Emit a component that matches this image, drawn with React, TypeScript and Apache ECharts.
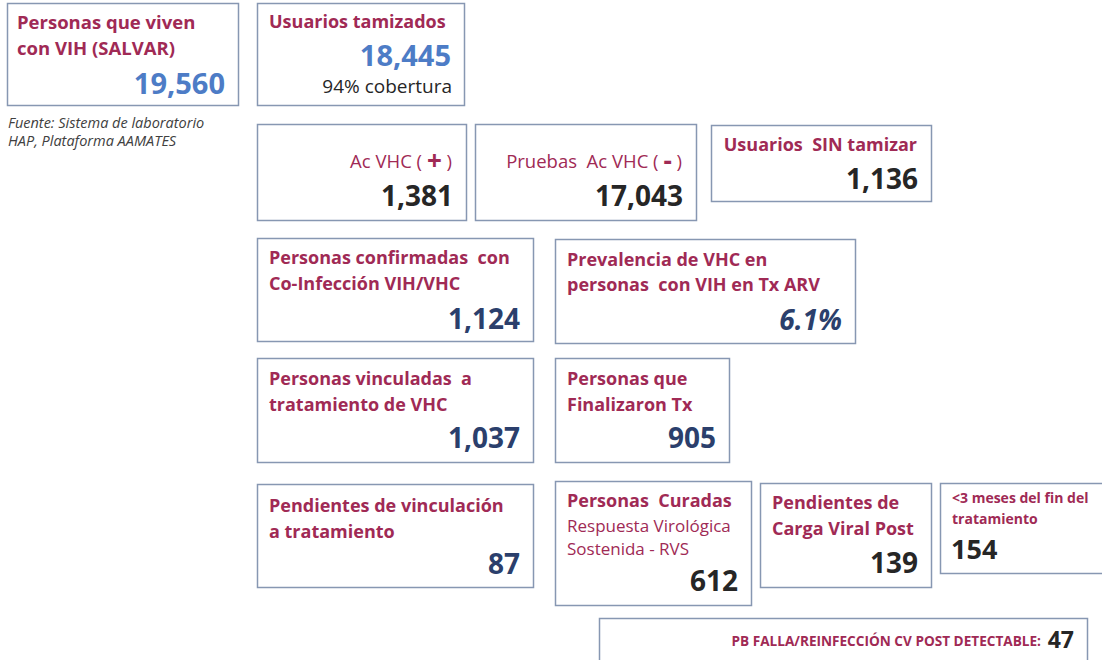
import React, { useEffect, useRef } from "react";
import * as echarts from "echarts";

// ---- data ----
const boxTitles: string[][] = [
  ["Personas que viven", "con VIH (SALVAR)"],
  ["Usuarios tamizados"],
  ["Ac VHC ( {sym|+} )"],
  ["Pruebas  Ac VHC ( {sym|-} )"],
  ["Usuarios  SIN tamizar"],
  ["Personas confirmadas  con", "Co-Infección VIH/VHC"],
  ["Prevalencia de VHC en", "personas  con VIH en Tx ARV"],
  ["Personas vinculadas  a", "tratamiento de VHC"],
  ["Personas que", "Finalizaron Tx"],
  ["Pendientes de vinculación", "a tratamiento"],
  ["Personas  Curadas"],
  ["Pendientes de", "Carga Viral Post"],
  ["<3 meses del fin del", "tratamiento"],
  ["PB FALLA/REINFECCIÓN CV POST DETECTABLE:"],
];
const boxValues: number[] = [19560, 18445, 1381, 17043, 1136, 1124, 6.1, 1037, 905, 87, 612, 139, 154, 47];
const boxUnits: string[] = ["", "", "", "", "", "", "%", "", "", "", "", "", "", ""];
const coverageNote = "94% cobertura";
const curedNote = ["Respuesta Virológica", "Sostenida - RVS"];
const sourceNote = ["Fuente: Sistema de laboratorio", "HAP, Plataforma AAMATES"];

// ---- layout / style (not data) ----
type Layout = {
  x: number; y: number; w: number; h: number;
  titleY: number[]; titleAlign: "left" | "right"; titleSize: number; titleWeight: string; titleRight?: number; titleLeft?: number;
  valueY: number; valueX?: number; valueAlign: "left" | "right"; valueSize: number; valueColor: string; valueItalic?: boolean;
};
const BLUE = "#4d7cc6";
const DARK = "#262626";
const NAVY = "#2b3f6c";
const CRIMSON = "#a02a55";
const BORDER = "#8797b2";
const FONT = "'Open Sans', sans-serif";
const TS = 18;
const VS = 28;

const layout: Layout[] = [
  { x: 7, y: 3, w: 231, h: 102, titleY: [21, 47], titleAlign: "left", titleLeft: 17, titleSize: 18.5, titleWeight: "bold", valueY: 82, valueAlign: "right", valueSize: 29, valueColor: BLUE },
  { x: 257, y: 3, w: 207, h: 102, titleY: [21], titleAlign: "left", titleSize: TS, titleWeight: "bold", valueY: 54, valueAlign: "right", valueSize: 29, valueColor: BLUE },
  { x: 257, y: 124, w: 209, h: 96, titleY: [160], titleAlign: "right", titleSize: 18.5, titleWeight: "normal", valueY: 195, valueAlign: "right", valueSize: VS, valueColor: DARK },
  { x: 475, y: 124, w: 221, h: 96, titleY: [160], titleAlign: "right", titleSize: 18.5, titleWeight: "normal", valueY: 195, valueAlign: "right", valueSize: VS, valueColor: DARK },
  { x: 711, y: 125, w: 220, h: 76, titleY: [144], titleAlign: "right", titleSize: TS, titleWeight: "bold", valueY: 178, valueAlign: "right", valueSize: VS, valueColor: DARK },
  { x: 257, y: 238, w: 276, h: 103, titleY: [257, 283], titleAlign: "left", titleSize: TS, titleWeight: "bold", valueY: 318, valueAlign: "right", valueSize: VS, valueColor: NAVY },
  { x: 555, y: 239, w: 300, h: 104, titleY: [259, 284], titleAlign: "left", titleSize: TS, titleWeight: "bold", valueY: 319, valueAlign: "right", valueSize: VS, valueColor: NAVY, valueItalic: true },
  { x: 257, y: 358, w: 276, h: 104, titleY: [378, 404], titleAlign: "left", titleSize: TS, titleWeight: "bold", valueY: 437, valueAlign: "right", valueSize: VS, valueColor: NAVY },
  { x: 555, y: 358, w: 174, h: 104, titleY: [378, 404], titleAlign: "left", titleSize: TS, titleWeight: "bold", valueY: 437, valueAlign: "right", valueSize: VS, valueColor: NAVY },
  { x: 257, y: 484, w: 276, h: 103, titleY: [505, 531], titleAlign: "left", titleSize: TS, titleWeight: "bold", valueY: 563, valueAlign: "right", valueSize: VS, valueColor: NAVY },
  { x: 555, y: 481, w: 196, h: 124, titleY: [500], titleAlign: "left", titleSize: TS, titleWeight: "bold", valueY: 580, valueAlign: "right", valueSize: VS, valueColor: DARK },
  { x: 760, y: 483, w: 171, h: 104, titleY: [502, 528], titleAlign: "left", titleSize: TS, titleWeight: "bold", valueY: 562, valueAlign: "right", valueSize: VS, valueColor: DARK },
  { x: 940, y: 483, w: 170, h: 90, titleY: [497, 518], titleAlign: "left", titleSize: 14, titleWeight: "bold", valueY: 548, valueX: 951, valueAlign: "left", valueSize: 27, valueColor: DARK },
  { x: 599, y: 618, w: 488, h: 60, titleY: [640], titleAlign: "right", titleSize: 13.6, titleWeight: "bold", titleRight: 1041, valueY: 639, valueAlign: "right", valueSize: 23, valueColor: DARK },
];

function fmt(v: number, unit: string): string {
  if (unit === "%") return v.toFixed(1) + "%";
  return v.toLocaleString("en-US");
}

function buildGraphic(): any[] {
  const els: any[] = [];
  layout.forEach((L, i) => {
    els.push({
      type: "rect",
      shape: { x: L.x + 0.5, y: L.y + 0.5, width: L.w, height: L.h },
      style: { fill: "#ffffff", stroke: BORDER, lineWidth: 1.5 },
      silent: true,
    });
    const rightX = L.titleRight ?? L.x + L.w - 14;
    const valueRight = L.x + L.w - 13;
    boxTitles[i].forEach((t, j) => {
      els.push({
        type: "text",
        x: L.titleAlign === "left" ? (L.titleLeft ?? L.x + 12) : rightX,
        y: L.titleY[j],
        style: {
          text: t,
          fill: CRIMSON,
          fontFamily: FONT,
          fontSize: L.titleSize,
          fontWeight: L.titleWeight,
          textAlign: L.titleAlign,
          textVerticalAlign: "middle",
          rich: {
            sym: { fontSize: 26, fontWeight: "bold", fill: CRIMSON, fontFamily: FONT },
          },
        },
        silent: true,
      });
    });
    els.push({
      type: "text",
      x: L.valueAlign === "left" ? (L.valueX ?? L.x + 12) : valueRight,
      y: L.valueY,
      style: {
        text: fmt(boxValues[i], boxUnits[i]),
        fill: L.valueColor,
        fontFamily: FONT,
        fontSize: L.valueSize,
        fontWeight: "bold",
        fontStyle: L.valueItalic ? "italic" : "normal",
        textAlign: L.valueAlign,
        textVerticalAlign: "middle",
      },
      silent: true,
    });
  });
  // coverage note in box 2
  els.push({
    type: "text", x: 452, y: 86, silent: true,
    style: { text: coverageNote, fill: DARK, fontFamily: FONT, fontSize: 19, textAlign: "right", textVerticalAlign: "middle" },
  });
  // cured note in box 11
  curedNote.forEach((t, j) => {
    els.push({
      type: "text", x: 567, y: 525 + j * 23, silent: true,
      style: { text: t, fill: CRIMSON, fontFamily: FONT, fontSize: 17, textAlign: "left", textVerticalAlign: "middle" },
    });
  });
  // source note
  sourceNote.forEach((t, j) => {
    els.push({
      type: "text", x: 8, y: 122 + j * 18, silent: true,
      style: { text: t, fill: "#404040", fontFamily: FONT, fontSize: 14.5, fontStyle: "italic", textAlign: "left", textVerticalAlign: "middle" },
    });
  });
  return els;
}

export default function App() {
  const ref = useRef<HTMLDivElement>(null);
  useEffect(() => {
    document.body.style.margin = "0";
    if (!ref.current) return;
    const chart = echarts.init(ref.current, null, { renderer: "svg" });
    chart.setOption({
      animation: false,
      backgroundColor: "#ffffff",
      graphic: { elements: buildGraphic() },
    });
    return () => chart.dispose();
  }, []);
  return <div ref={ref} style={{ width: 1102, height: 660 }} />;
}
